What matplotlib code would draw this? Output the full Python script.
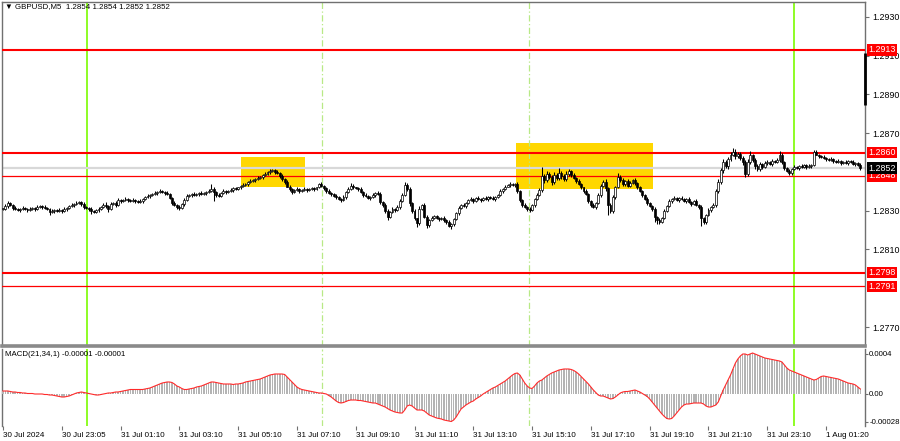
import numpy as np
import matplotlib.pyplot as plt
from matplotlib.patches import Rectangle

# GBPUSD M5, prices in pips above 1.2800, one value per 5-minute bar
base = 1.2800
close_pips = [
    31.0, 32.5, 34.0, 33.0, 31.5, 31.0, 30.5, 31.0, 31.5, 31.0,
    30.5, 31.0, 31.5, 31.0, 32.0, 32.5, 32.0, 31.5, 31.0, 29.5,
    30.0, 30.5, 30.0, 30.5, 30.0, 31.0, 31.5, 32.5, 33.0, 33.5,
    34.0, 34.5, 33.5, 32.0, 31.5, 31.0, 30.0, 29.5, 30.5, 31.0,
    32.0, 33.0, 32.5, 31.0, 33.5, 34.0, 33.0, 35.5, 35.0, 35.5,
    36.0, 35.5, 35.0, 35.5, 35.0, 34.5, 35.0, 36.0, 37.0, 37.5,
    38.0, 38.5, 39.0, 39.5, 40.0, 39.5, 39.0, 38.5, 36.5, 34.0,
    33.0, 32.0, 31.5, 33.5, 35.5, 37.5, 38.0, 38.5, 38.0, 38.5,
    39.0, 38.5, 39.0, 39.5, 40.0, 41.0, 39.5, 38.0, 37.5, 39.0,
    40.0, 39.5, 40.0, 40.5, 41.5, 41.0, 42.0, 43.0, 43.5, 44.0,
    45.0, 45.5, 46.0, 46.5, 47.0, 47.5, 48.5, 49.0, 50.0, 50.5,
    51.0, 50.0, 49.5, 48.0, 46.5, 45.0, 42.5, 41.0, 39.5, 40.5,
    41.0, 40.0, 40.5, 41.0, 40.5, 41.0, 41.5, 41.0, 42.0, 44.0,
    43.0, 41.5, 40.0, 39.0, 38.5, 37.5, 37.0, 36.0, 35.5, 37.0,
    39.5, 41.0, 43.0, 42.0, 41.5, 41.0, 39.5, 38.0, 37.5, 36.5,
    37.0, 38.0, 39.0, 38.5, 34.5, 33.0, 30.0, 27.0, 29.5, 31.0,
    30.5, 32.0, 35.0, 38.0, 43.5, 41.0, 34.0, 30.0, 26.0, 23.5,
    31.0, 33.0, 27.0, 22.5, 25.0, 26.5, 27.5, 26.0, 25.5, 26.5,
    25.0, 24.0, 22.0, 23.0, 25.5, 29.0, 31.5, 33.0, 32.5, 34.0,
    35.5, 36.0, 35.0, 36.5, 36.0, 35.5, 36.5, 36.0, 37.0, 36.5,
    36.0, 37.0, 38.0, 40.0, 41.0, 42.5, 43.5, 44.0, 43.5, 44.0,
    40.0, 35.5, 33.0, 32.0, 31.0, 30.5, 33.0, 36.0, 38.0, 40.5,
    48.0, 46.0, 49.0, 47.5, 45.0, 48.5, 47.0, 49.5, 48.0, 46.5,
    49.0, 50.5, 48.5, 47.0, 45.5, 44.0, 42.0, 40.0, 38.5, 35.0,
    33.0, 32.0, 34.0, 38.0, 43.0, 45.0, 41.5, 33.0, 30.0, 37.0,
    42.0, 47.5, 46.0, 44.0, 45.5, 43.0, 44.5, 46.0, 44.5, 42.0,
    40.0, 38.0, 36.0, 34.0, 32.5, 31.0, 27.0, 25.0, 24.0, 26.5,
    30.0, 32.5, 35.0, 36.0, 36.5, 35.5, 36.5, 36.0, 35.0, 36.0,
    34.5, 33.5, 35.0, 33.0, 32.0, 26.0, 24.0, 28.0, 30.5, 32.0,
    33.0, 40.0, 45.0, 51.0, 55.0, 53.0, 56.5, 59.0, 60.5, 58.0,
    59.5, 57.0, 55.0, 49.0, 55.0, 58.5, 56.0, 53.0, 51.5, 54.0,
    52.5, 54.5, 55.0, 54.0, 55.5, 55.0, 56.0, 59.0, 55.0, 52.0,
    50.5, 49.5, 51.5, 52.5, 52.0, 53.0, 52.5, 53.5, 52.5, 53.0,
    53.5, 60.5, 59.0, 58.0, 57.5, 57.0, 56.5, 56.0, 56.5, 55.5,
    55.0, 55.5, 54.5, 55.0, 54.5, 55.5, 55.0, 54.0, 54.5, 53.5,
    52.0,
]
# wick above / below the body, in pips
wick_up = [
    0.5, 1, 1, 0.5, 0.5, 1, 0.5, 0.5, 1, 0.5,
    0.5, 1, 0.5, 0.5, 1, 0.5, 0.5, 1, 0.5, 0.5,
    1, 0.5, 0.5, 1, 0.5, 1, 0.5, 0.5, 1, 0.5,
    1, 0.5, 0.5, 1, 0.5, 0.5, 1, 0.5, 0.5, 1,
    0.5, 1, 1.5, 0.5, 1, 0.5, 1, 1, 0.5, 0.5,
    1, 0.5, 0.5, 1, 0.5, 0.5, 1, 0.5, 0.5, 1,
    0.5, 0.5, 1, 0.5, 1, 0.5, 0.5, 1, 0.5, 0.5,
    1, 0.5, 1, 0.5, 1, 1, 0.5, 0.5, 1, 0.5,
    0.5, 1, 0.5, 0.5, 1, 3, 1, 0.5, 1, 0.5,
    1, 0.5, 0.5, 1, 0.5, 1, 0.5, 0.5, 1, 0.5,
    0.5, 1, 0.5, 0.5, 1, 0.5, 0.5, 1, 0.5, 1,
    0.5, 0.5, 1, 0.5, 1, 0.5, 1, 1, 0.5, 0.5,
    1, 0.5, 0.5, 1, 0.5, 0.5, 1, 0.5, 0.5, 0.5,
    1, 0.5, 0.5, 1, 0.5, 0.5, 1, 0.5, 0.5, 1,
    0.5, 1, 1.5, 1, 0.5, 0.5, 1, 0.5, 1, 0.5,
    0.5, 1, 0.5, 1, 1, 0.5, 1, 1, 0.5, 1,
    0.5, 1, 1, 1, 1.5, 1, 1, 0.5, 1, 0.5,
    1.5, 0.5, 1, 1, 0.5, 1, 0.5, 0.5, 1, 0.5,
    1, 0.5, 1, 0.5, 1, 0.5, 1, 0.5, 1, 0.5,
    0.5, 1, 0.5, 0.5, 1, 0.5, 0.5, 1, 0.5, 0.5,
    1, 0.5, 0.5, 1, 0.5, 1, 0.5, 1, 0.5, 0.5,
    1, 0.5, 0.5, 1, 0.5, 1, 0.5, 0.5, 1, 1,
    4.5, 1, 1.5, 1, 1, 1.5, 1, 2.5, 1, 1,
    1.5, 1, 0.5, 1, 0.5, 1, 0.5, 0.5, 1, 0.5,
    0.5, 1, 0.5, 1, 1, 1, 1.5, 1, 1, 1,
    1, 2, 1, 1, 0.5, 1, 1, 0.5, 1, 0.5,
    1, 0.5, 0.5, 1, 0.5, 0.5, 1, 0.5, 1, 0.5,
    1, 0.5, 1, 0.5, 1, 0.5, 0.5, 1, 0.5, 0.5,
    1, 0.5, 0.5, 1, 0.5, 1, 1, 0.5, 1, 0.5,
    1, 1, 1.5, 1, 1.5, 1, 1, 1.5, 2, 1.5,
    1, 1, 1, 1, 1.5, 2.5, 1, 1, 1, 1,
    0.5, 1, 1, 0.5, 1, 0.5, 1, 2, 1, 0.5,
    0.5, 1, 0.5, 1, 0.5, 0.5, 1, 0.5, 0.5, 1,
    0.5, 1, 1, 0.5, 0.5, 1, 0.5, 0.5, 1, 0.5,
    0.5, 1, 0.5, 0.5, 1, 0.5, 0.5, 1, 0.5, 0.5,
    1,
]
wick_dn = [
    0.5, 0.5, 1, 0.5, 1, 0.5, 0.5, 1, 0.5, 0.5,
    1, 0.5, 0.5, 1, 0.5, 0.5, 1, 0.5, 0.5, 1.5,
    0.5, 1, 0.5, 0.5, 1, 0.5, 1, 0.5, 0.5, 1,
    0.5, 0.5, 1, 1, 0.5, 1, 1.5, 0.5, 0.5, 1,
    0.5, 0.5, 1, 1.5, 0.5, 0.5, 1, 0.5, 1, 0.5,
    0.5, 1, 0.5, 0.5, 1, 0.5, 0.5, 1, 0.5, 0.5,
    1, 0.5, 0.5, 1, 0.5, 0.5, 1, 0.5, 0.5, 1,
    0.5, 1, 1, 0.5, 1, 0.5, 0.5, 1, 0.5, 0.5,
    1, 0.5, 0.5, 1, 0.5, 0.5, 4.5, 1, 0.5, 0.5,
    0.5, 1, 0.5, 0.5, 1, 0.5, 0.5, 1, 0.5, 0.5,
    1, 0.5, 0.5, 1, 0.5, 0.5, 1, 0.5, 0.5, 1,
    0.5, 1, 0.5, 1, 1, 1, 0.5, 1, 1, 0.5,
    0.5, 1, 0.5, 0.5, 1, 0.5, 0.5, 1, 0.5, 0.5,
    0.5, 1, 1, 0.5, 1, 0.5, 1, 0.5, 1, 0.5,
    1, 0.5, 0.5, 1, 0.5, 1, 0.5, 1, 0.5, 0.5,
    1, 0.5, 1, 0.5, 1, 1, 1, 2, 1, 0.5,
    1, 0.5, 1, 0.5, 0.5, 1, 1.5, 1, 1, 1.8,
    1, 0.5, 1, 1.5, 1, 0.5, 1, 0.5, 1, 0.5,
    1, 1, 0.5, 1.5, 1, 0.5, 1, 0.5, 0.5, 1,
    0.5, 0.5, 1, 0.5, 0.5, 1, 0.5, 0.5, 1, 0.5,
    0.5, 1, 0.5, 0.5, 1, 0.5, 0.5, 1, 0.5, 1,
    1, 1, 1, 0.5, 1, 1, 0.5, 1, 0.5, 0.5,
    1, 1.5, 1, 1, 1.5, 1, 1, 1, 1.5, 1,
    1, 1, 1, 0.5, 1, 0.5, 1, 1, 0.5, 1,
    1, 0.5, 1, 0.5, 1, 1, 1.5, 5, 1, 1,
    1, 0.5, 1, 1, 1, 0.5, 1, 0.5, 1, 1,
    0.5, 1, 0.5, 1, 0.5, 1, 3, 2, 1, 0.5,
    1, 0.5, 0.5, 1, 0.5, 0.5, 1, 0.5, 0.5, 1,
    0.5, 1, 0.5, 0.5, 1, 4, 1, 1, 0.5, 1,
    0.5, 1, 1, 1, 1.5, 1, 1.5, 1, 1, 1.5,
    1, 1, 1.5, 1.5, 1, 1, 1, 1.5, 1, 1,
    1, 0.5, 1, 0.5, 1, 0.5, 0.5, 1, 1, 1,
    0.5, 1, 1, 0.5, 0.5, 1, 0.5, 0.5, 1, 0.5,
    1, 0.5, 0.5, 1, 0.5, 0.5, 1, 0.5, 0.5, 1,
    0.5, 0.5, 1, 0.5, 0.5, 1, 0.5, 0.5, 1, 0.5,
    1,
]
# MACD(21,34,1) main value per bar, units of 0.00001
macd_e5 = [
    3, 3, 3, 2.5, 2, 2, 1.5, 1.5, 1, 1,
    0.5, 0.5, 0.5, 0, 0, 0, 0, -0.5, -0.5, -1,
    -1, -1.5, -2, -2.5, -3, -3, -2.5, -2, -1, 0,
    1, 1.5, 2, 1.5, 1, 0.5, 0, -0.5, -1, -1,
    -0.5, 0, 0.5, 1, 1, 1.5, 2, 2, 2.5, 3,
    3.5, 4, 4.5, 4.5, 4.5, 4.5, 4.5, 4.5, 5, 5.5,
    6, 7, 8, 9, 10, 11, 11.5, 12, 12, 11.5,
    10, 8, 7, 5.5, 4.5, 4.5, 5, 5.5, 6, 7,
    7.5, 8, 9, 10, 11, 12, 12, 11.5, 11, 10.5,
    10, 10, 10, 10, 9.5, 10, 10, 10.5, 11, 12,
    12.5, 13, 13.5, 14, 14.5, 15, 16, 17, 18, 19,
    19.5, 20, 20, 20, 20, 19.5, 17, 14.5, 12, 9.5,
    7, 5.5, 4.5, 4, 3.5, 3, 2.5, 2, 1.5, 1,
    1, 0.5, 0, -1.5, -3, -5, -7, -8.5, -9, -8.5,
    -7.5, -6.5, -6, -6, -6, -6.5, -6.5, -7, -7.5, -8,
    -8.5, -9, -9, -10, -11, -12, -13, -14.5, -16, -17,
    -18, -18.5, -19, -19, -16, -12, -11, -12, -14, -16,
    -16, -16, -17, -19, -21, -22, -23, -24, -24.5, -25,
    -26, -26.5, -27, -27.5, -26, -23, -19, -15, -13, -11,
    -9.5, -8, -7, -5, -3.5, -2, 0, 1.5, 3, 4.5,
    6, 7, 8.5, 10, 11.5, 13, 15, 17, 19, 20.5,
    21, 19, 15, 11, 8, 6, 5.5, 8, 11, 13,
    14, 16, 18, 19.5, 21, 22, 23, 24, 24.5, 25,
    25, 25, 24.5, 23.5, 22, 20, 17.5, 15, 12.5, 10,
    7, 4, 1.5, -1, -2, -2, -3, -4, -5, -4.5,
    -3, -1, 1, 2, 2.5, 2.5, 3, 3.5, 4, 3,
    2, 0.5, -1, -2.5, -5, -8, -11, -14, -17, -20,
    -22.5, -24.5, -25, -24.5, -22, -19, -16, -13, -11, -10,
    -10, -9.5, -9, -9, -9, -9, -10, -12, -13, -13,
    -12, -11, -8, -2, 4, 9, 14, 19, 25, 31,
    35, 38, 40, 40, 39, 40, 41, 40, 39, 38,
    37, 36, 35.5, 35, 34.5, 34, 33.5, 33, 32, 29,
    26, 24, 23, 22, 21, 20, 19, 18, 17, 16,
    15, 14, 14.5, 16, 17.5, 18, 17.5, 17, 16.5, 16,
    15.5, 15, 14, 13, 12, 11, 10.5, 10, 9, 7,
    5,
]
# the tall bar sitting on the right border
spike_pips = (84.6, 111.4)

tick_bars = [0, 24, 48, 72, 96, 120, 144, 168, 192, 216, 240, 264, 288, 312, 336]
tick_labels = ["30 Jul 2024", "30 Jul 23:05", "31 Jul 01:10", "31 Jul 03:10",
               "31 Jul 05:10", "31 Jul 07:10", "31 Jul 09:10", "31 Jul 11:10",
               "31 Jul 13:10", "31 Jul 15:10", "31 Jul 17:10", "31 Jul 19:10",
               "31 Jul 21:10", "31 Jul 23:10", "1 Aug 01:20"]
price_ticks = [1.2770, 1.2810, 1.2830, 1.2870, 1.2890, 1.2910, 1.2930]
macd_ticks = [40e-5, 0, -28e-5]
macd_tick_labels = ["0.0004", "0.00", "-0.00028"]

# levels: (price, thick?)
levels = [(1.2913, True), (1.2860, True), (1.2848, False), (1.2798, True), (1.2791, False)]
bid = 1.2852
day_lines = [34.1, 323.1]
session_lines = [130.4, 214.9]
# yellow boxes: bar from, bar to, price low, price high
boxes = [(97.3, 123.1, 1.28423, 1.28577), (209.6, 265.5, 1.28412, 1.28650)]

plt.rcParams["font.family"] = ["Liberation Sans", "DejaVu Sans"]
FS_R = 6.4   # right scale
FS_X = 5.8   # time labels
FS_T = 5.7   # titles

n = len(close_pips)
idx = np.arange(n)
c = base + np.array(close_pips) * 1e-4
o = np.r_[c[0], c[:-1]]
hi = np.maximum(o, c) + np.array(wick_up) * 1e-4
lo = np.minimum(o, c) - np.array(wick_dn) * 1e-4

W, H = 900, 441
fig = plt.figure(figsize=(9, 4.41), dpi=100)
fig.patch.set_facecolor("white")

def px_axes(x0, y0, x1, y1):
    return fig.add_axes([x0 / W, 1 - y1 / H, (x1 - x0) / W, (y1 - y0) / H])

ax = px_axes(2, 2, 865, 346)
ax2 = px_axes(2, 349, 865, 426)

xlim = (-0.4, 351.9)
for a in (ax, ax2):
    a.set_xlim(*xlim)
    a.set_facecolor("white")
    for s in a.spines.values():
        s.set_color("#707070")
        s.set_linewidth(1.0)
ax.spines["bottom"].set_linewidth(2.6)
ax.spines["bottom"].set_color("#8a8a8a")
ax2.spines["top"].set_visible(False)
ax2.spines["bottom"].set_visible(False)

ax.set_ylim(1.27602, 1.29377)

# yellow boxes
for x0, x1, y0, y1 in boxes:
    ax.add_patch(Rectangle((x0, y0), x1 - x0, y1 - y0, facecolor="#ffd700",
                           edgecolor="none", zorder=1))

# vertical lines
for xv in day_lines:
    for a in (ax, ax2):
        a.axvline(xv, color="#7cfc00", lw=1.2, zorder=2)
for xv in session_lines:
    for a in (ax, ax2):
        a.axvline(xv, color="#b8e986", lw=0.9, ls=(0, (5, 2, 1, 2)), zorder=2)

# horizontal levels
ax.axhline(bid, color="#d8d8d8", lw=1.6, zorder=2)
for p, thick in levels:
    ax.axhline(p, color="#ff0000", lw=1.5 if thick else 0.9, zorder=3)

# candles
up = c >= o
ax.vlines(idx, lo, hi, color="black", lw=0.75, zorder=4)
body_lo = np.minimum(o, c)
body_h = np.maximum(np.abs(c - o), 0.25e-4)
ax.bar(idx[up], body_h[up], bottom=body_lo[up], width=0.78, color="white",
       edgecolor="black", linewidth=0.5, zorder=5)
ax.bar(idx[~up], body_h[~up], bottom=body_lo[~up], width=0.78, color="black",
       edgecolor="black", linewidth=0.5, zorder=5)
ax.vlines(xlim[1] - 0.15, base + spike_pips[0] * 1e-4, base + spike_pips[1] * 1e-4,
          color="black", lw=2.0, zorder=6, clip_on=False)

# right price scale
ax.yaxis.tick_right()
ax.set_yticks(price_ticks)
ax.set_yticklabels([f"{v:.4f}" for v in price_ticks])
ax.tick_params(axis="y", labelsize=FS_R, length=3, width=0.8, color="#707070", pad=2)
ax.set_xticks([])

def price_tag(p, fc):
    ytr = ax.transData.transform((0, p))[1]
    fig.text(868.5 / W, ytr / H, f"{p:.4f}", fontsize=FS_R, color="white",
             va="center", ha="left", zorder=10,
             bbox=dict(boxstyle="square,pad=0.14", fc=fc, ec="none"))

for p, _ in levels:
    price_tag(p, "#ff0000")
price_tag(bid, "black")

fig.text(5 / W, 1 - 7 / H, "▼ GBPUSD,M5  1.2854 1.2854 1.2852 1.2852",
         fontsize=FS_T, va="center", ha="left",
         family=["Liberation Sans", "DejaVu Sans"])

# MACD panel
m = np.array(macd_e5) * 1e-5
ax2.set_ylim(-32e-5, 45e-5)
ax2.bar(idx, m, width=0.6, color="#b4b4b4", zorder=3)
ax2.plot(idx, m, color="#ff2a2a", lw=0.8, zorder=4)
ax2.yaxis.tick_right()
ax2.set_yticks(macd_ticks)
ax2.set_yticklabels(macd_tick_labels)
ax2.tick_params(axis="y", labelsize=5.6, length=2, width=0.8, color="#707070", pad=1)
ax2.text(0.003, 0.93, "MACD(21,34,1) -0.00001 -0.00001", transform=ax2.transAxes,
         fontsize=FS_T, va="center", ha="left")

ax2.set_xticks(tick_bars)
ax2.set_xticklabels(tick_labels)
ax2.tick_params(axis="x", labelsize=FS_X, length=3, width=0.8, color="#707070", pad=1)
for lbl in ax2.get_xticklabels():
    lbl.set_ha("left")

fig.savefig("out.png", dpi=100)
